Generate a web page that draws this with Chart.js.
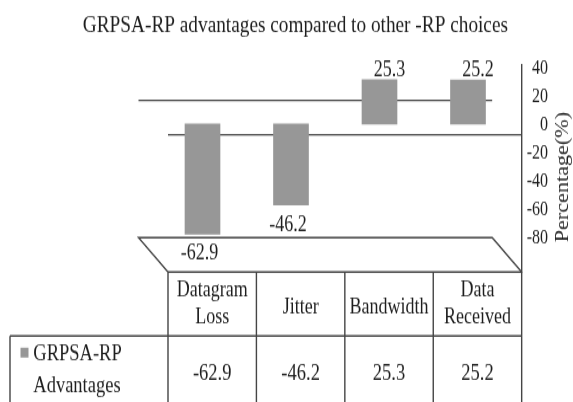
<!DOCTYPE html>
<html>
<head>
<meta charset="utf-8">
<script src="https://cdn.jsdelivr.net/npm/chart.js@4.4.1/dist/chart.umd.min.js"></script>
<style>
  html { margin: 0; padding: 0; background: #ffffff; overflow: hidden; }
  body { margin: 0; padding: 0; background: #ffffff; width: 573px; height: 402px; }
  #wrap { width: 573px; height: 327px; transform: scaleY(1.2294); transform-origin: 0 0; }
</style>
</head>
<body>
<div id="wrap"><canvas id="c" width="573" height="327"></canvas></div>
<script>
// ---- data ----
const chartTitle = 'GRPSA-RP advantages compared to other -RP choices';
const categories = [['Datagram', 'Loss'], ['Jitter'], ['Bandwidth'], ['Data', 'Received']];
const seriesName = ['GRPSA-RP', 'Advantages'];
const advantages = [-62.9, -46.2, 25.3, 25.2];
const axisTicks = [-80, -60, -40, -20, 0, 20, 40];
const axisTitle = 'Percentage(%)';

// ---- styles ----
const FONT = 'Liberation Serif';
const TEXT = '#1e1e1e';
const BAR = '#979797';
const LINE = '#454545';
const frame = { depthX: 29.5, depthY: 28, frontZero: 56.8, width: 1.4 };
const table = { headerH: 52.1, bodyLeft: 10, headFont: 18, bodyFont: 18.5 };

const excel3d = {
  id: 'excel3d',
  beforeDatasetsDraw(chart) {
    const { ctx, chartArea: a } = chart;
    const fz = a.top + frame.frontZero;
    ctx.save();
    ctx.strokeStyle = LINE;
    ctx.lineWidth = frame.width;
    ctx.beginPath();
    ctx.moveTo(a.left - frame.depthX, fz - frame.depthY);
    ctx.lineTo(a.right - frame.depthX, fz - frame.depthY);
    ctx.moveTo(a.left, fz);
    ctx.lineTo(a.right, fz);
    ctx.moveTo(a.left, a.bottom);
    ctx.lineTo(a.left - frame.depthX, a.bottom - frame.depthY);
    ctx.lineTo(a.right - frame.depthX, a.bottom - frame.depthY);
    ctx.lineTo(a.right, a.bottom);
    ctx.stroke();
    ctx.restore();
  },
  afterDatasetsDraw(chart) {
    const { ctx } = chart;
    const meta = chart.getDatasetMeta(0);
    ctx.save();
    ctx.fillStyle = TEXT;
    ctx.font = '18px "' + FONT + '"';
    ctx.textAlign = 'center';
    ctx.textBaseline = 'alphabetic';
    meta.data.forEach((el, i) => {
      const v = advantages[i];
      if (v >= 0) ctx.fillText(String(v), el.x + 10, el.y - 3);
      else ctx.fillText(String(v), el.x - 3, el.y + 21);
    });
    ctx.restore();
  },
  afterDraw(chart) {
    const { ctx, chartArea: a } = chart;
    const H = chart.height;
    const n = categories.length;
    const colW = (a.right - a.left) / n;
    const B = a.bottom;
    const sepY = B + table.headerH;
    ctx.save();
    ctx.strokeStyle = LINE;
    ctx.lineWidth = frame.width;
    ctx.beginPath();
    ctx.moveTo(a.left, B); ctx.lineTo(a.right, B);
    ctx.moveTo(table.bodyLeft, sepY); ctx.lineTo(a.right, sepY);
    for (let k = 0; k <= n; k++) {
      const x = a.left + k * colW;
      ctx.moveTo(x, B); ctx.lineTo(x, H);
    }
    ctx.moveTo(table.bodyLeft, sepY); ctx.lineTo(table.bodyLeft, H);
    ctx.stroke();

    // header labels
    ctx.fillStyle = TEXT;
    ctx.textAlign = 'center';
    ctx.textBaseline = 'alphabetic';
    ctx.font = table.headFont + 'px "' + FONT + '"';
    const cy = (B + sepY) / 2;
    categories.forEach((lines, c) => {
      const cx = a.left + (c + 0.5) * colW;
      lines.forEach((t, i) => {
        ctx.fillText(t, cx, cy + 7.5 - 13.5 * (lines.length - 1) + i * 21.4);
      });
    });

    // values row
    ctx.font = table.bodyFont + 'px "' + FONT + '"';
    advantages.forEach((v, c) => {
      ctx.fillText(String(v), a.left + (c + 0.5) * colW, B + 87.5);
    });

    // legend key + series name
    ctx.fillStyle = BAR;
    ctx.fillRect(20.5, B + 61.6, 8, 8);
    ctx.fillStyle = TEXT;
    ctx.textAlign = 'left';
    ctx.fillText(seriesName[0], 33.3, B + 71.6);
    ctx.fillText(seriesName[1], 33.3, B + 97.4);

    // axis title (reads bottom to top)
    ctx.font = '18px "' + FONT + '"';
    ctx.textAlign = 'center';
    ctx.textBaseline = 'middle';
    ctx.translate(563, (a.top + a.bottom) / 2 + 7);
    ctx.rotate(-Math.PI / 2);
    ctx.fillText(axisTitle, 0, 0);
    ctx.restore();
  }
};

new Chart(document.getElementById('c'), {
  type: 'bar',
  data: {
    datasets: [{
      label: seriesName.join(' '),
      data: advantages.map((v, i) => ({ x: i, y: v })),
      backgroundColor: BAR,
      borderWidth: 0,
      barThickness: 35,
      yAxisID: 'yb'
    }]
  },
  options: {
    responsive: false,
    devicePixelRatio: 1,
    animation: false,
    layout: { padding: { left: 42.8, right: 25, top: 0, bottom: 105.8 } },
    plugins: {
      legend: { display: false },
      tooltip: { enabled: false },
      title: {
        display: true,
        text: chartTitle,
        color: TEXT,
        font: { family: FONT, size: 19.3, weight: 'normal' },
        padding: { top: 9, bottom: 20.64 }
      }
    },
    scales: {
      x: {
        type: 'linear',
        min: -0.3898,
        max: 3.6065,
        offset: false,
        grid: { offset: false },
        display: false
      },
      yb: {
        type: 'linear',
        position: 'left',
        min: -84.54,
        max: 33.76,
        display: true,
        ticks: { display: false },
        grid: { display: false, drawTicks: false },
        border: { display: false },
        afterFit: s => { s.width = 125.2; }
      },
      y: {
        type: 'linear',
        position: 'right',
        min: -103.96,
        max: 42.18,
        afterBuildTicks: s => { s.ticks = axisTicks.map(v => ({ value: v })); },
        afterFit: s => { s.width -= s.options.ticks.padding; },
        ticks: {
          padding: 5,
          crossAlign: 'far',
          color: TEXT,
          font: { family: FONT, size: 16 },
          callback: v => String(v)
        },
        grid: { display: false, drawTicks: false },
        border: { display: true, color: LINE, width: 1.4 }
      }
    }
  },
  plugins: [excel3d]
});
</script>
</body>
</html>
